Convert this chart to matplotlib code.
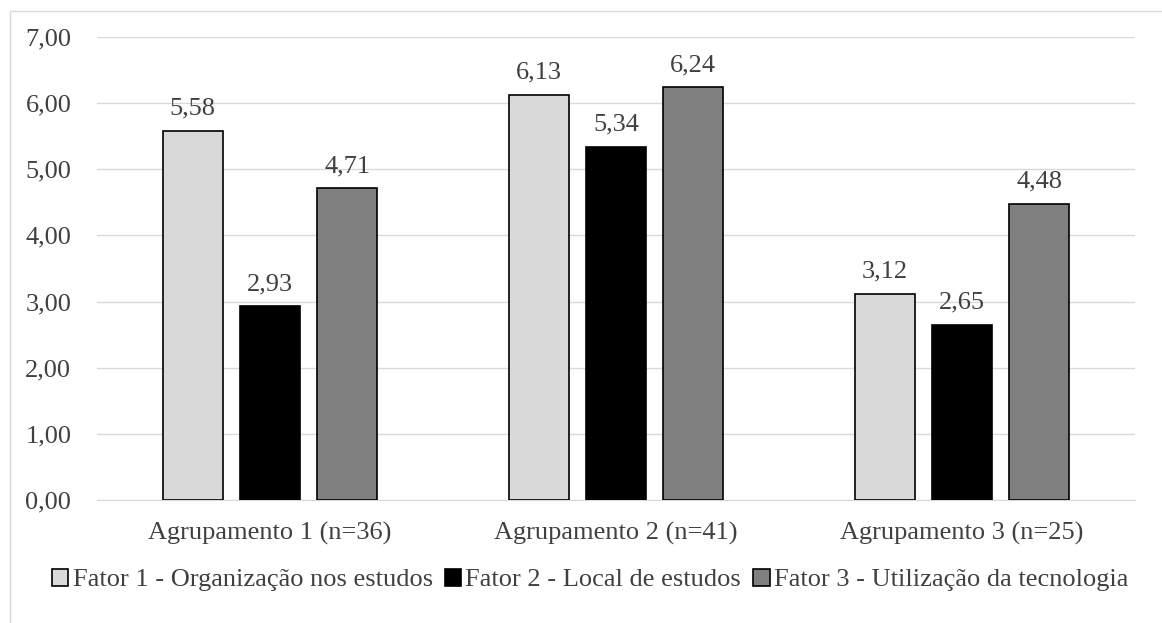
import matplotlib
matplotlib.use("Agg")
import matplotlib.pyplot as plt
import numpy as np
from matplotlib.patches import Rectangle

categories = ["Agrupamento 1 (n=36)", "Agrupamento 2 (n=41)", "Agrupamento 3 (n=25)"]
series_names = ["Fator 1 - Organização nos estudos", "Fator 2 - Local de estudos",
                "Fator 3 - Utilização da tecnologia"]
fator1 = [5.58, 6.13, 3.12]
fator2 = [2.93, 5.34, 2.65]
fator3 = [4.71, 6.24, 4.48]
yticks = [0, 1, 2, 3, 4, 5, 6, 7]
colors = ["#D9D9D9", "#000000", "#808080"]

plt.rcParams['font.family'] = 'serif'
plt.rcParams['font.serif'] = ['Liberation Serif', 'DejaVu Serif']
txt = "#404040"
fs = 19

fig = plt.figure(figsize=(11.62, 6.23), dpi=100)
fig.patches.append(Rectangle((10/1162, -0.05), 1.0, 1.05 - 11/623,
                             transform=fig.transFigure, fill=False,
                             edgecolor="#D9D9D9", linewidth=1.0))
ax = fig.add_axes([97/1162, 1 - 500/623, (1135-97)/1162, (500-37)/623])

x = np.arange(len(categories))
w = 0.173
step = 0.223
for i, (vals, name) in enumerate(zip([fator1, fator2, fator3], series_names)):
    bars = ax.bar(x + (i - 1) * step, vals, width=w, color=colors[i],
                  edgecolor="#000000", linewidth=1.2, label=name, zorder=3)
    for b, v in zip(bars, vals):
        ax.text(b.get_x() + b.get_width() / 2, v + 0.17, f"{v:.2f}".replace(".", ","),
                ha="center", va="bottom", fontsize=fs, color=txt)

ax.set_xlim(-0.5, 2.5)
ax.set_ylim(0, 7)
ax.set_yticks(yticks)
ax.set_yticklabels([f"{t:.2f}".replace(".", ",") for t in yticks], fontsize=fs, color=txt)
ax.set_xticks(x)
ax.set_xticklabels(categories, fontsize=fs, color=txt)
ax.tick_params(axis="both", length=0)
ax.tick_params(axis="y", pad=18.5)
ax.tick_params(axis="x", pad=16)
ax.grid(axis="y", color="#D9D9D9", linewidth=1.0, zorder=0)
for s in ["top", "right", "left"]:
    ax.spines[s].set_visible(False)
ax.spines["bottom"].set_color("#D9D9D9")
ax.spines["bottom"].set_zorder(1)

leg = fig.legend(loc="center", bbox_to_anchor=(590/1162, 1 - 580/623), ncol=3,
                 frameon=False, fontsize=fs, handlelength=0.63, handleheight=0.63,
                 handletextpad=0.16, columnspacing=0.45, labelcolor=txt)

fig.savefig("out.png", dpi=100)
